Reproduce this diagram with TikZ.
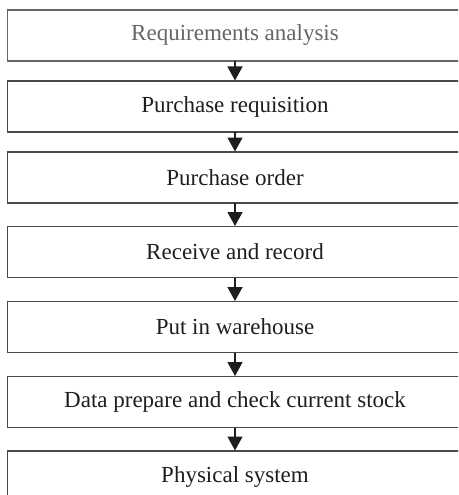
\documentclass[tikz,border=0pt]{standalone}
\usepackage{fontspec}
\setmainfont{Liberation Serif}
\usetikzlibrary{arrows.meta}
\definecolor{boxline}{HTML}{4A4A4A}
\definecolor{firstline}{HTML}{666666}
\definecolor{txt}{HTML}{1E1E1E}
\definecolor{arr}{HTML}{1E1E1E}
\tikzset{
  stepbox/.style={draw=boxline, line width=1.5pt, minimum width=455pt, minimum height=51pt,
    inner sep=0pt, outer sep=0pt, text=txt, font=\fontsize{23pt}{27pt}\selectfont},
  flowarrow/.style={draw=arr, line width=1.4pt, -{Triangle[width=15pt,length=14pt]}, shorten >=0.5pt}
}
\begin{document}
\begin{tikzpicture}[x=1pt,y=-1pt]
\useasboundingbox (0,0) rectangle (458,495);
\clip (0,0) rectangle (458,495);
\node[stepbox, draw=firstline, text=firstline] (b1) at (235,35.5) {Requirements analysis};
\node[stepbox] (b2) at (235,106.5) {Purchase requisition};
\node[stepbox] (b3) at (235,177.5) {Purchase order};
\node[stepbox] (b4) at (235,252) {Receive and record};
\node[stepbox] (b5) at (235,327) {Put in warehouse};
\node[stepbox] (b6) at (235,402) {Data prepare and check current stock};
\node[stepbox] (b7) at (235,476.5) {Physical system};
\foreach \a/\b in {b1/b2,b2/b3,b3/b4,b4/b5,b5/b6,b6/b7}{
  \draw[flowarrow] (\a.south) -- (\b.north);
}
\end{tikzpicture}
\end{document}
